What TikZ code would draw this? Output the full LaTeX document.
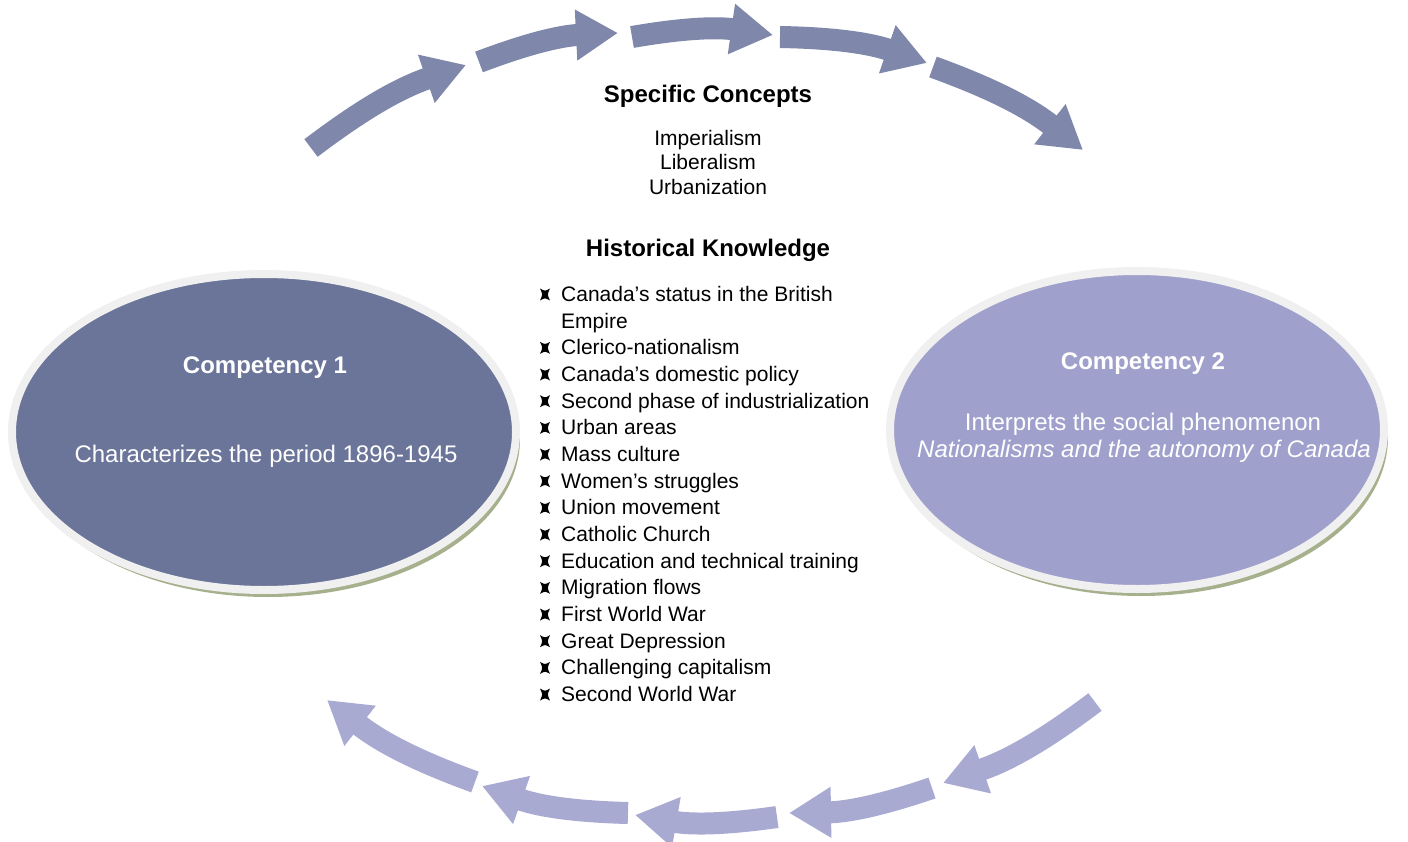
\documentclass[tikz,border=0pt]{standalone}
\usepackage{fontspec}
\setmainfont{Liberation Sans}
\usetikzlibrary{arrows.meta,shapes.geometric,shadows}

\definecolor{compdark}{RGB}{107,116,153}
\definecolor{complight}{RGB}{160,160,204}
\definecolor{rimgrey}{RGB}{240,240,240}
\definecolor{shadowgreen}{RGB}{166,176,140}
\definecolor{arrowdark}{RGB}{127,135,170}
\definecolor{arrowlight}{RGB}{169,170,210}

\tikzset{
  compnode/.style={ellipse, draw=rimgrey, line width=8pt, inner sep=0pt,
    drop shadow={fill=shadowgreen, opacity=1, shadow xshift=4pt, shadow yshift=-7pt}},
  comptitle/.style={anchor=base, inner sep=0pt, text=white, font=\bfseries\fontsize{24}{29}\selectfont},
  comptext/.style={anchor=base, inner sep=0pt, text=white, font=\fontsize{24}{29}\selectfont},
  headtitle/.style={anchor=base, inner sep=0pt, font=\bfseries\fontsize{24}{29}\selectfont},
  concept/.style={anchor=base, inner sep=0pt, font=\fontsize{21}{26}\selectfont},
  itemtext/.style={anchor=base west, inner sep=0pt, font=\fontsize{21}{26}\selectfont},
  cyclearrow/.style={line width=22pt, -{Triangle[length=42pt,width=48pt]}},
  kstar/.pic={\fill (-5,-6) .. controls (0,-3.2) .. (5,-6)
    .. controls (2.2,0) .. (5,6) .. controls (0,3.2) .. (-5,6)
    .. controls (-2.2,0) .. (-5,-6) -- cycle;}
}

\begin{document}
\begin{tikzpicture}[x=1pt,y=-1pt]
\useasboundingbox (0,0) rectangle (1408,842);

% the two competencies
\node[compnode, fill=compdark, minimum width=504pt, minimum height=316pt] (comp1) at (264,432) {};
\node[compnode, fill=complight, minimum width=494pt, minimum height=318pt] (comp2) at (1137,430) {};

\node[comptitle] (comp1title) at (265,373.5) {Competency 1};
\node[comptext] (comp1text) at (266,462.5) {Characterizes the period 1896-1945};
\node[comptitle] (comp2title) at (1143,369.5) {Competency 2};
\node[comptext] (comp2text) at (1143,430.5) {Interprets the social phenomenon};
\node[comptext, font=\itshape\fontsize{24}{29}\selectfont] (comp2phen) at (1144,457.5) {Nationalisms and the autonomy of Canada};

% cycle arrows
\foreach \a/\b in {{311,148}/{466,65}, {479,62}/{618,33}, {632,37}/{773,35},
                   {780,37}/{927,63}, {933,67}/{1083,150}}
  \draw[cyclearrow, arrowdark] (\a) to[bend left=9] (\b);
\foreach \a/\b in {{1095,702}/{943,783}, {932,788}/{789,813}, {777,817}/{635,815},
                   {628,813}/{482,786}, {475,782}/{327,700}}
  \draw[cyclearrow, arrowlight] (\a) to[bend left=9] (\b);

% concepts
\node[headtitle] (spectitle) at (708,102.5) {Specific Concepts};
\node[concept] (imperialism) at (708,145.5) {Imperialism};
\node[concept] (liberalism) at (708,170) {Liberalism};
\node[concept] (urbanization) at (708,194.5) {Urbanization};

% knowledge
\node[headtitle] (histtitle) at (708,256.5) {Historical Knowledge};
\pic at (545,294.5) {kstar};
\node[itemtext] (item1) at (561,301.5) {Canada’s status in the British};
\node[itemtext] (item1b) at (561,328.2) {Empire};
\foreach \txt [count=\n from 2] in {Clerico-nationalism, Canada’s domestic policy,
    Second phase of industrialization, Urban areas, Mass culture, Women’s struggles,
    Union movement, Catholic Church, Education and technical training, Migration flows,
    First World War, Great Depression, Challenging capitalism, Second World War}
{
  \pgfmathsetmacro\yb{301.5+26.67*\n}
  \pic at (545,\yb-7) {kstar};
  \node[itemtext] (item\n) at (561,\yb) {\txt};
}

\end{tikzpicture}
\end{document}
